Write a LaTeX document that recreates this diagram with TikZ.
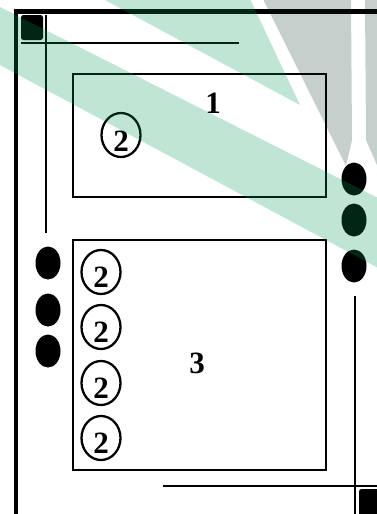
\documentclass[tikz,border=0pt]{standalone}
\usepackage{fontspec}
\setmainfont{Liberation Serif}
\usetikzlibrary{shapes.geometric}
\definecolor{wmgreen}{RGB}{0,156,84}
\definecolor{wmgray}{RGB}{0,40,27}
\begin{document}
\begin{tikzpicture}[x=1pt,y=-1pt,
  thickline/.style={line width=4.5pt},
  thinline/.style={line width=2pt},
  boxframe/.style={draw,line width=2.2pt,inner sep=0pt,outer sep=0pt},
  circ/.style={draw,ellipse,line width=2.3pt,minimum width=39pt,minimum height=44pt,inner sep=0pt},
  digit/.style={font=\fontsize{31}{31}\selectfont\bfseries,inner sep=0pt},
  dot/.style={fill=black,ellipse,minimum width=25pt,minimum height=33pt,inner sep=0pt},
  corner/.style={fill=black,rounded corners=2.5pt},
  wmg/.style={fill=wmgreen,fill opacity=0.25},
  wmy/.style={fill=wmgray,fill opacity=0.224}]
\useasboundingbox (0,0) rectangle (377,514);
\clip (0,0) rectangle (377,514);
% outer frame
\draw[thickline] (16,530) -- (16,11.5) -- (390,11.5);
\fill[corner] (21,15) rectangle (43,40);
\fill[corner] (359,489) rectangle (385,520);
% thin guide lines
\coordinate (vt) at (46,15);
\coordinate (vb) at (46,233);
\coordinate (hl) at (21,43);
\coordinate (hr) at (239,43);
\draw[thinline] (vt) -- (vb);
\draw[thinline] (hl) -- (hr);
\coordinate (rvt) at (355,296);
\coordinate (rvb) at (355,520);
\coordinate (bhl) at (163,486);
\coordinate (bhr) at (380,486);
\draw[thinline] (rvt) -- (rvb);
\draw[thinline] (bhl) -- (bhr);
% boxes
\node[boxframe,minimum width=253pt,minimum height=123pt] (box1) at (199.5,135.5) {};
\node[boxframe,minimum width=253pt,minimum height=230pt] (box3) at (199.5,355) {};
\node[digit] (l1) at (213,103) {1};
\node[digit] (l3) at (197,363) {3};
% circled twos
\node[circ] (c0) at (121,135) {};
\node[digit] at ([yshift=-6pt]c0.center) {2};
\foreach \i/\y in {1/272,2/327,3/383,4/438}{
  \node[circ] (c\i) at (101,\y) {};
  \node[digit] at ([yshift=-5pt]c\i.center) {2};
}
% dots
\node[dot] (dl1) at (48,263) {};
\node[dot] (dl2) at (48,310) {};
\node[dot] (dl3) at (48,351) {};
\node[dot] (dr1) at (354,179) {};
\node[dot] (dr2) at (354,220) {};
\node[dot] (dr3) at (354,266) {};
% watermark overlay
\fill[wmg] (-2,6) -- (380,199) -- (380,269) -- (-2,64) -- cycle;
\fill[wmg] (103,-1) -- (250,-1) -- (300,105) -- cycle;
\fill[wmy] (263,-1) -- (351,-1) -- (352,140) -- (346,166) -- cycle;
\fill[wmy] (365,-1) -- (380,-1) -- (380,172) -- (366,140) -- cycle;
\end{tikzpicture}
\end{document}
